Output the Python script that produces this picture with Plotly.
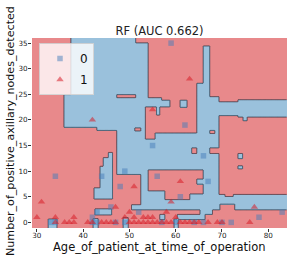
import numpy as np
import plotly.graph_objects as go

# ---------------- data ----------------
title_text = "RF (AUC 0.662)"
x_label = "Age_of_patient_at_time_of_operation"
y_label = "Number_of_positive_axillary_nodes_detected"
x_ticks = [30, 40, 50, 60, 70, 80]
y_ticks = [0, 5, 10, 15, 20, 25, 30, 35]
x_range = [28.95, 84.05]
y_range = [-1.1, 36.0]

# observed points (age, nodes)
class0_age = [83, 78, 72, 70, 66, 59, 62, 55, 66, 67, 49, 44, 34, 48, 56, 61, 46, 43, 52, 42,
              33, 34, 42, 43, 47, 49, 57, 60, 64]
class0_nodes = [2, 1, 0, 0, 0, 35, 19, 15, 13, 8, 10, 9, 9, 7, 9, 5, 3, 2, 2, 1,
                0, 0, 0, 0, 0, 0, 0, 0, 0]
class1_age = [42, 55, 63, 31, 51, 61, 59, 47, 50, 58, 77, 30, 34, 38, 49, 51, 53, 54, 55, 60,
              34, 36, 37, 38, 41, 42, 44, 45, 46, 47, 50, 51, 52, 53, 54, 55, 56, 57, 58, 59,
              61, 62, 63, 64, 65, 67, 69, 70, 76]
class1_nodes = [20, 22, 28, 4, 7, 8, 4, 3, 2, 2, 3, 1, 1, 1, 1, 1, 1, 1, 1, 1,
                0, 0, 0, 0, 0, 0, 0, 0, 0, 0, 0, 0, 0, 0, 0, 0, 0, 0, 0, 0,
                0, 0, 0, 0, 0, 0, 0, 0, 0]

# decision regions of the classifier: (age0, age1, nodes0, nodes1, predicted class)
# painted in order over a class-1 background
region_age0 = [37.4, 51.4, 35.9, 43.0, 47.3, 53.5, 57.0, 47.3, 64.6, 64.6, 66.0, 67.4, 69.4, 73.5,
               74.6, 69.4, 65.3, 60.4, 59.7, 56.6, 42.2, 32.5, 48.7, 42.6, 43.7, 42.4, 44.4, 45.5,
               61.0, 73.5, 73.5, 55.9,
               46.4, 46.4, 53.5, 51.2, 67.4, 63.5, 67.4, 54.1, 57.7, 63.1, 64.6, 69.6, 70.7]
region_age1 = [51.4, 54.1, 47.3, 47.3, 53.5, 57.0, 58.8, 69.4, 69.4, 67.4, 67.4, 69.4, 73.5, 84.5,
               75.5, 84.5, 68.0, 66.4, 60.6, 57.7, 43.3, 34.4, 49.8, 46.2, 46.4, 46.4, 46.4, 46.4,
               62.5, 74.5, 74.5, 56.6,
               52.5, 50.5, 55.6, 52.5, 68.5, 64.6, 69.4, 66.0, 63.1, 66.0, 66.0, 72.8, 72.5]
region_nodes0 = [25.0, 24.4, 18.6, 18.0, 9.4, 22.6, 22.6, 2.5, 17.5, 20.9, 27.2, 20.9, 20.9, 20.6,
                 19.9, 2.5, 1.6, 0.6, -1.5, 0.6, -1.5, -1.5, -1.5, 1.5, 6.8, 4.6, 11.0, 12.7,
                 22.5, 12.5, 10.5, 21.0,
                 3.5, 2.4, 16.3, 17.9, 17.4, 13.5, 13.5, 6.2, 4.5, 5.6, 7.5, 2.4, 5.1]
region_nodes1 = [36.5, 35.1, 25.0, 18.6, 24.4, 24.4, 23.9, 17.5, 20.9, 27.2, 34.5, 24.6, 23.6, 24.0,
                 20.6, 5.5, 2.5, 1.6, 0.7, 1.6, 0.8, 0.7, 1.0, 2.7, 11.0, 6.8, 12.7, 13.7,
                 23.9, 13.5, 11.1, 22.6,
                 9.4, 3.5, 17.5, 18.5, 18.0, 14.6, 14.6, 10.3, 6.2, 6.2, 8.5, 3.6, 5.5]
region_class = [0] * 32 + [1, 1, 1, 1, 1, 1, 1, 1, 1, 1, 0, 1, 1]

# ---------------- build decision grid ----------------
gx = np.round(np.arange(29.0, 84.0 + 1e-9, 0.1), 3)
gy = np.round(np.arange(-1.1, 36.0 + 1e-9, 0.1), 3)
GX, GY = np.meshgrid(gx, gy)
Z = np.ones_like(GX)
for a0, a1, n0, n1, c in zip(region_age0, region_age1, region_nodes0, region_nodes1, region_class):
    Z[(GX >= a0) & (GX < a1) & (GY >= n0) & (GY < n1)] = c

RED_BG = "#E8898B"
BLUE_BG = "#9AC1DC"
FONT = "DejaVu Sans"

fig = go.Figure()
fig.add_trace(go.Heatmap(
    x=gx, y=gy, z=Z, zmin=0, zmax=1,
    colorscale=[[0, BLUE_BG], [0.5, BLUE_BG], [0.5, RED_BG], [1, RED_BG]],
    showscale=False, hoverinfo="skip", zsmooth=False, showlegend=False))
fig.add_trace(go.Contour(
    x=gx, y=gy, z=Z, showscale=False, hoverinfo="skip",
    contours=dict(start=0.5, end=0.5, size=1, coloring="none"),
    line=dict(color="rgba(45,55,70,0.85)", width=1), showlegend=False))

fig.add_trace(go.Scatter(
    x=class0_age, y=class0_nodes, mode="markers", name="0", legendgroup="g0",
    marker=dict(symbol="square", size=5.5, color="rgba(70,125,185,0.5)", line=dict(width=0))))
fig.add_trace(go.Scatter(
    x=class1_age, y=class1_nodes, mode="markers", name="1", legendgroup="g1",
    marker=dict(symbol="triangle-up", size=6.5, color="rgba(215,30,40,0.55)", line=dict(width=0))))

PLOT_TOP, PLOT_BOTTOM, PLOT_LEFT = 38, 228, 32
PLOT_H = PLOT_BOTTOM - PLOT_TOP
PLOT_W = 291 - 4 - PLOT_LEFT

fig.update_layout(
    width=291, height=265,
    margin=dict(l=PLOT_LEFT, r=4, t=PLOT_TOP, b=265 - PLOT_BOTTOM, autoexpand=False),
    paper_bgcolor="white", plot_bgcolor="white",
    font=dict(family=FONT, color="#222"),
    title=dict(text=title_text, x=0.548, xanchor="center", y=1 - 31 / 265, yanchor="middle",
               yref="container", font=dict(size=11.5, family=FONT, color="#222")),
    showlegend=True,
    legend=dict(x=(39 - PLOT_LEFT) / PLOT_W, y=(PLOT_BOTTOM - 43) / PLOT_H,
                xanchor="left", yanchor="top", tracegroupgap=2,
                bgcolor="rgba(255,255,255,0.8)", bordercolor="rgba(210,210,210,0.9)",
                borderwidth=1, font=dict(size=12, family=FONT, color="#111")),
    annotations=[
        dict(text=x_label, xref="paper", yref="paper", x=0.5, y=(PLOT_BOTTOM - 246.5) / PLOT_H,
             xanchor="center", yanchor="middle", showarrow=False,
             font=dict(size=11.5, family=FONT, color="#111")),
        dict(text=y_label, xref="paper", yref="paper", x=(10 - PLOT_LEFT) / PLOT_W,
             y=(PLOT_BOTTOM - 131) / PLOT_H, xanchor="center", yanchor="middle",
             textangle=-90, showarrow=False,
             font=dict(size=11.1, family=FONT, color="#111")),
    ],
)
fig.update_xaxes(range=x_range, tickvals=x_ticks, ticks="outside", ticklen=3, tickwidth=0.8,
                 tickcolor="#333", tickfont=dict(size=7.2, family=FONT, color="#222"),
                 ticklabelstandoff=-3,
                 showgrid=False, zeroline=False, showline=False, automargin=False)
fig.update_yaxes(range=y_range, tickvals=y_ticks, ticks="outside", ticklen=3, tickwidth=0.8,
                 tickcolor="#333", tickfont=dict(size=7.2, family=FONT, color="#222"),
                 ticklabelstandoff=-1,
                 showgrid=False, zeroline=False, showline=False, automargin=False)

fig.write_html("out.html", config={"displayModeBar": False},
               post_script="document.body.style.margin='0px';")
